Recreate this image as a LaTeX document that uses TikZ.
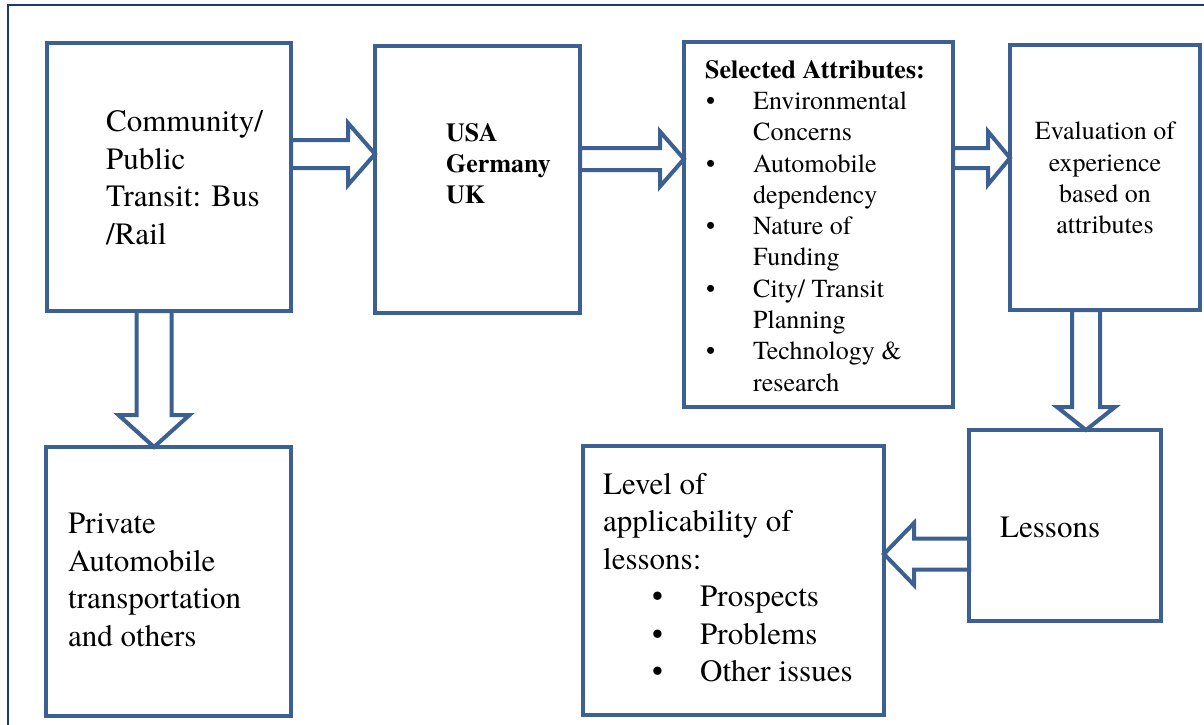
\documentclass[tikz,border=0pt]{standalone}
\usepackage{fontspec}
\IfFontExistsTF{texgyretermes-regular.otf}{%
    \setmainfont{texgyretermes}[Extension=.otf,UprightFont=*-regular,BoldFont=*-bold,
        ItalicFont=*-italic,BoldItalicFont=*-bolditalic]}{%
    \setmainfont{Liberation Serif}}
\usetikzlibrary{calc}

\definecolor{boxblue}{HTML}{3B6091}
\definecolor{framenavy}{HTML}{1C3A6E}

\newcommand{\bul}{\makebox[48pt][l]{\hspace{1pt}\textbullet}}
\newcommand{\ind}{\hspace*{48pt}}
\newcommand{\lbul}{\hspace*{49pt}\makebox[48pt][l]{\textbullet}}

% hollow block arrow: from, to, shaft half width, head half width, head length
\newcommand{\fatarrow}[5]{%
    \draw[fat] let \p1=#1, \p2=#2,
            \n1={veclen(\x2-\x1,\y2-\y1)}, \n2={atan2(\y2-\y1,\x2-\x1)},
            \n3={\n1-#5} in
        ([shift={(\p1)},rotate=\n2]0pt,#3pt) -- ([shift={(\p1)},rotate=\n2]\n3,#3pt)
        -- ([shift={(\p1)},rotate=\n2]\n3,#4pt) -- ([shift={(\p1)},rotate=\n2]\n1,0pt)
        -- ([shift={(\p1)},rotate=\n2]\n3,-#4pt) -- ([shift={(\p1)},rotate=\n2]\n3,-#3pt)
        -- ([shift={(\p1)},rotate=\n2]0pt,-#3pt) -- cycle;}

\begin{document}
\begin{tikzpicture}[x=1pt,y=-1pt,
    box/.style 2 args={draw=boxblue,line width=4.2pt,fill=white,rectangle,minimum width=#1,minimum height=#2,outer sep=0pt,inner sep=0pt},
    fat/.style={draw=boxblue,line width=4pt,fill=white,line join=miter},
    big/.style={font=\rmfamily\fontsize{31}{37.5}\selectfont,align=left,inner sep=0pt},
    mid/.style={font=\rmfamily\fontsize{26}{31.3}\selectfont,align=left,inner sep=0pt}]
                \useasboundingbox (0,0) rectangle (1204,725);
                \draw[framenavy,line width=1.8pt] (8,5) rectangle (1230,745);

                \node[box={244}{268},anchor=north west] (comm) at (47,43) {};
                \node[box={205}{267},anchor=north west] (usa) at ($ (comm.north east) + (84,3) $) {};
                \node[box={269}{365},anchor=north west] (attr) at ($ (usa.north east) + (104,-4) $) {};
                \node[box={190}{265},anchor=north west] (eval) at ($ (attr.north east) + (57,3) $) {};
                \node[box={192}{191},anchor=north east] (lessons) at ($ (eval.south east) + (-39,120) $) {};
                \node[box={301}{269},anchor=north east] (level) at ($ (lessons.north west) + (-85,16) $) {};
                \node[box={245}{269},anchor=north west] (priv) at ($ (comm.south west) + (-1,136) $) {};

                \fatarrow{(comm.east |- 0,154)}{(usa.west |- 0,154)}{14}{31}{27}
                \fatarrow{(usa.east |- 0,159)}{(attr.west |- 0,159)}{11}{27.5}{24}
                \fatarrow{(attr.east |- 0,158)}{(eval.west |- 0,158)}{10}{26.5}{22}
                \fatarrow{(comm.south -| 154,0)}{(priv.north -| 154,0)}{17.5}{35.5}{32}
                \fatarrow{(eval.south -| 1086,0)}{(lessons.north -| 1086,0)}{14}{29}{23}
                \fatarrow{(lessons.west |- 0,554)}{(level.east |- 0,554)}{15.5}{31}{30}

                \node[big,anchor=north west] (commtext) at ($ (comm.north west) + (59,67.5) $) {
                    Community/\\
                    Public\\
                    Transit: Bus\\
                    /Rail
                };

                \node[mid,anchor=north west,font=\rmfamily\fontsize{26}{31}\selectfont\bfseries] (usatext) at ($ (usa.north west) + (71,77) $) {
                    USA\\
                    Germany\\
                    UK
                };

                \node[mid,anchor=north west] (attrtext) at ($ (attr.north west) + (21,18) $) {
                    \textbf{Selected Attributes:}\\
                    \bul Environmental\\
                    \ind Concerns\\
                    \bul Automobile\\
                    \ind dependency\\
                    \bul Nature of\\
                    \ind Funding\\
                    \bul City/ Transit\\
                    \ind Planning\\
                    \bul Technology \&\\
                    \ind research
                };

                \node[mid,align=center,anchor=north] (evaltext) at ($ (eval.north) + (0,77) $) {
                    Evaluation of\\
                    experience\\
                    based on\\
                    attributes
                };

                \node[big,anchor=west] (lessontext) at ($ (lessons.west) + (31,1.5) $) {Lessons};

                \node[big,anchor=north west] (leveltext) at ($ (level.north west) + (20,27) $) {
                    Level of\\
                    applicability of\\
                    lessons:\\
                    \lbul Prospects\\
                    \lbul Problems\\
                    \lbul Other issues
                };

                \node[big,anchor=north west] (privtext) at ($ (priv.north west) + (22,66) $) {
                    Private\\
                    Automobile\\
                    transportation\\
                    and others
                };
\end{tikzpicture}
\end{document}
